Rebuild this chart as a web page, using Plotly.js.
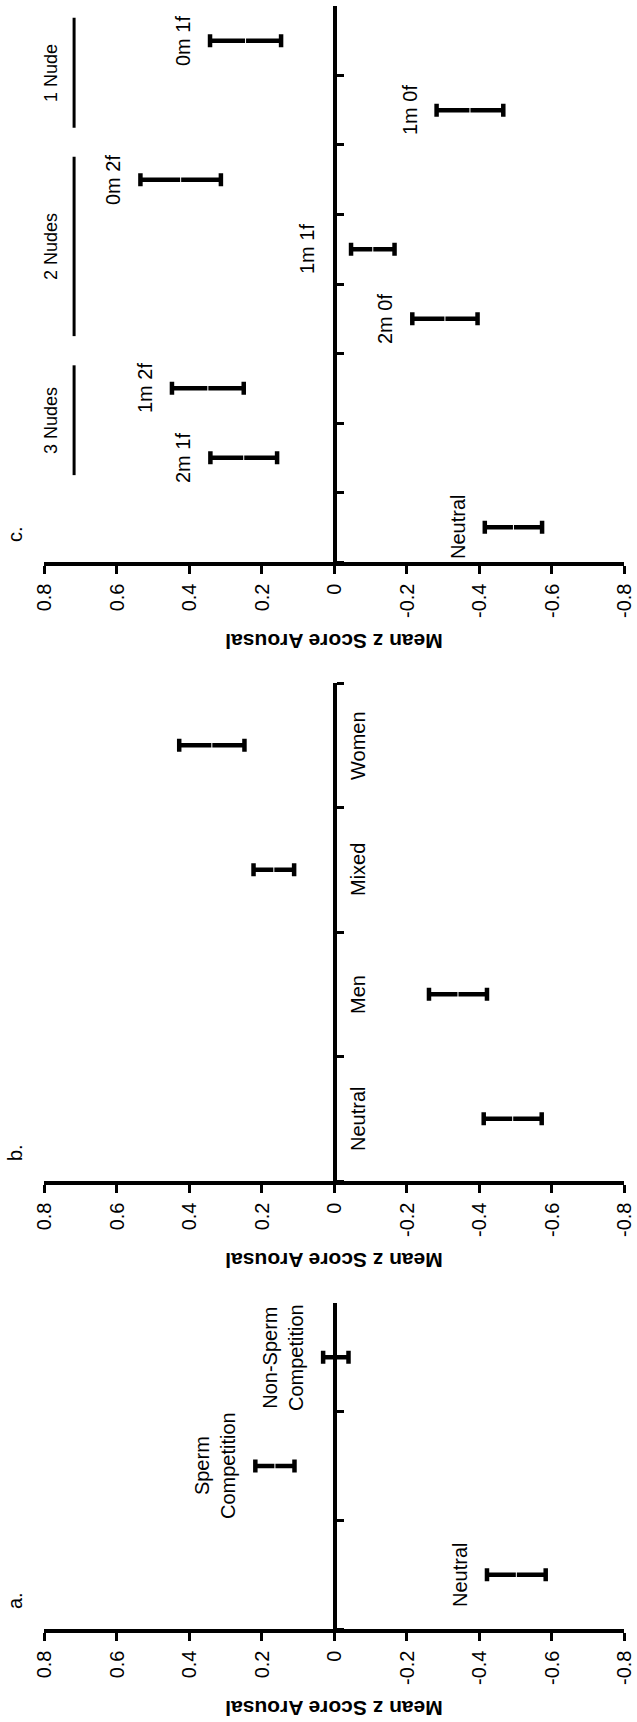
<!DOCTYPE html>
<html>
<head>
<meta charset="utf-8">
<script src="https://cdn.plot.ly/plotly-3.0.1.min.js"></script>
<style>
html, body { margin: 0; padding: 0; background: #fff; overflow: hidden; width: 637px; height: 1722px; }
#chart { position: absolute; left: 0; top: 0; width: 1722px; height: 637px;
  transform-origin: 0 0; transform: translate(0px, 1722px) rotate(-90deg); }
</style>
</head>
<body>
<div id="chart"></div>
<script>
// ---------------- data ----------------
const catsA   = ['Neutral', 'Sperm Competition', 'Non-Sperm Competition'];
const labelsA = ['Neutral', 'Sperm<br>Competition', 'Non-Sperm<br>Competition'];
const meansA  = [-0.503, 0.163, -0.005];
const errsA   = [0.081, 0.054, 0.035];

const catsB   = ['Neutral', 'Men', 'Mixed', 'Women'];
const labelsB = ['Neutral', 'Men', 'Mixed', 'Women'];
const meansB  = [-0.493, -0.342, 0.166, 0.337];
const errsB   = [0.080, 0.080, 0.056, 0.090];

const catsC   = ['Neutral', '2m 1f', '1m 2f', '2m 0f', '1m 1f', '0m 2f', '1m 0f', '0m 1f'];
const labelsC = ['Neutral', '2m 1f', '1m 2f', '2m 0f', '1m 1f', '0m 2f', '1m 0f', '0m 1f'];
const meansC  = [-0.495, 0.249, 0.348, -0.306, -0.107, 0.423, -0.375, 0.244];
const errsC   = [0.079, 0.092, 0.099, 0.090, 0.060, 0.111, 0.092, 0.098];

const groupNames   = ['3 Nudes', '2 Nudes', '1 Nude'];
const groupMembers = [['2m 1f', '1m 2f'], ['2m 0f', '1m 1f', '0m 2f'], ['1m 0f', '0m 1f']];

const panelLetters    = ['a.', 'b.', 'c.'];
const valueTicks      = [-0.8, -0.6, -0.4, -0.2, 0, 0.2, 0.4, 0.6, 0.8];
const valueTickLabels = ['-0.8', '-0.6', '-0.4', '-0.2', '0', '0.2', '0.4', '0.6', '0.8'];
const valueTitle      = 'Mean z Score Arousal';

// ---------------- style ----------------
const FONT = 'Liberation Sans, Arial, Helvetica, sans-serif';
const INK = '#000';
const W = 1722, H = 637;
const MARGIN = { l: 93, r: 6, t: 44, b: 13 };
const domains = [[0, 0.20086], [0.27603, 0.58287], [0.65742, 1]];
const GROUP_LINE_LEVEL = 0.717;

const panels = [
  { cats: catsA, labels: labelsA, means: meansA, errs: errsA, mode: 'above' },
  { cats: catsB, labels: labelsB, means: meansB, errs: errsB, mode: 'below' },
  { cats: catsC, labels: labelsC, means: meansC, errs: errsC, mode: 'above' }
];

const data = [];
const layout = {
  width: W, height: H, margin: MARGIN,
  paper_bgcolor: '#fff', plot_bgcolor: 'rgba(0,0,0,0)',
  showlegend: false,
  font: { family: FONT, color: INK, size: 20 },
  annotations: [], shapes: []
};

panels.forEach((p, i) => {
  const s = i === 0 ? '' : String(i + 1);
  const xa = 'x' + s, ya = 'y' + s;
  data.push({
    type: 'scatter', mode: 'markers', xaxis: xa, yaxis: ya,
    x: p.cats, y: p.means,
    marker: { symbol: 'line-ew', size: 5, color: '#fff', line: { color: '#fff', width: 1 } },
    error_y: { type: 'data', array: p.errs, visible: true, color: INK, thickness: 4.5, width: 6.5 },
    hoverinfo: 'skip', cliponaxis: false
  });
  layout['xaxis' + s] = {
    domain: domains[i], type: 'category', categoryorder: 'array', categoryarray: p.cats,
    range: [-0.5, p.cats.length - 0.5],
    anchor: 'free', position: 0.5,
    showline: true, linecolor: INK, linewidth: 3.5,
    ticks: 'outside', tickson: 'boundaries', ticklen: 7, tickwidth: 3, tickcolor: INK,
    showticklabels: false, showgrid: false, zeroline: false, fixedrange: true
  };
  layout['yaxis' + s] = {
    domain: [0, 1], anchor: xa, range: [-0.8, 0.8],
    tickmode: 'array', tickvals: valueTicks, ticktext: valueTickLabels,
    ticks: 'outside', ticklen: 8, tickwidth: 3, tickcolor: INK,
    showline: true, linecolor: INK, linewidth: 3.5,
    showgrid: false, zeroline: false, fixedrange: true,
    tickfont: { family: FONT, size: 20, color: INK },
    ticklabelstandoff: 6,
    title: { text: valueTitle, font: { family: FONT, size: 21, color: INK, weight: 'bold' }, standoff: 10 }
  };
  // panel letter
  layout.annotations.push({
    xref: xa + ' domain', yref: 'paper', x: 0, y: 1, xanchor: 'left', yanchor: 'bottom',
    xshift: 18, yshift: 16, text: panelLetters[i], showarrow: false,
    font: { family: FONT, size: 20, color: INK }
  });
  // category labels
  p.cats.forEach((c, k) => {
    const hi = p.means[k] + p.errs[k];
    const ann = {
      xref: xa, yref: ya, x: c, showarrow: false, text: p.labels[k], align: 'center',
      font: { family: FONT, size: 20, color: INK }
    };
    if (p.mode === 'above') {
      // label sits above the upper end of the bar; if that would cross the zero axis, above the axis
      ann.y = (hi < 0 && hi > -0.15) ? 0 : hi;
      ann.yanchor = 'bottom'; ann.yshift = 14;
    } else {
      ann.y = 0; ann.yanchor = 'top'; ann.yshift = -11;
    }
    layout.annotations.push(ann);
  });
});

// group brackets in panel c
groupNames.forEach((g, j) => {
  const idx = groupMembers[j].map(m => catsC.indexOf(m));
  const x0 = Math.min(...idx) - 0.25, x1 = Math.max(...idx) + 0.33;
  layout.shapes.push({
    type: 'line', xref: 'x3', yref: 'y3', x0: x0, x1: x1,
    y0: GROUP_LINE_LEVEL, y1: GROUP_LINE_LEVEL, line: { color: INK, width: 3 }
  });
  layout.annotations.push({
    xref: 'x3', yref: 'y3', x: (x0 + x1) / 2, y: GROUP_LINE_LEVEL, yanchor: 'bottom', yshift: 11,
    text: g, showarrow: false, font: { family: FONT, size: 18, color: INK }
  });
});

Plotly.newPlot('chart', data, layout, { staticPlot: true, displayModeBar: false });
</script>
</body>
</html>
